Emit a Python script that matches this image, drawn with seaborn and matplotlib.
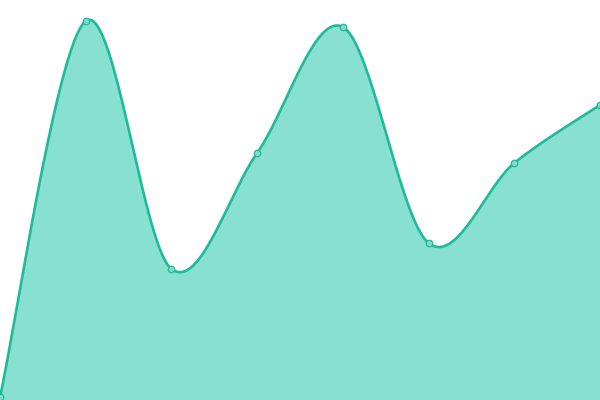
import numpy as np
import pandas as pd
import seaborn as sns
import matplotlib
matplotlib.use("Agg")
import matplotlib.pyplot as plt

# data
steps = [0, 1, 2, 3, 4, 5, 6, 7]
values = [3, 379, 131, 247, 373, 157, 237, 295]

df = pd.DataFrame({"step": steps, "value": values})


def catmull_rom(x, y, n=40):
    # smooth curve through the points (cardinal spline, tension 0)
    x = np.asarray(x, float)
    y = np.asarray(y, float)
    px = np.concatenate([[x[0]], x, [x[-1]]])
    py = np.concatenate([[y[0]], y, [y[-1]]])
    xs, ys = [], []
    for i in range(1, len(px) - 2):
        t = np.linspace(0, 1, n, endpoint=False)
        p0x, p1x, p2x, p3x = px[i - 1:i + 3]
        p0y, p1y, p2y, p3y = py[i - 1:i + 3]
        m1x, m2x = (p2x - p0x) / 2, (p3x - p1x) / 2
        m1y, m2y = (p2y - p0y) / 2, (p3y - p1y) / 2
        h00 = 2 * t**3 - 3 * t**2 + 1
        h10 = t**3 - 2 * t**2 + t
        h01 = -2 * t**3 + 3 * t**2
        h11 = t**3 - t**2
        xs.append(h00 * p1x + h10 * m1x + h01 * p2x + h11 * m2x)
        ys.append(h00 * p1y + h10 * m1y + h01 * p2y + h11 * m2y)
    xs.append([x[-1]])
    ys.append([y[-1]])
    return np.concatenate(xs), np.concatenate(ys)


sns.set_style("white")
fig = plt.figure(figsize=(6, 4), dpi=100)
ax = fig.add_axes([0, 0, 1, 1])

cx, cy = catmull_rom(df["step"], df["value"])
smooth = pd.DataFrame({"x": cx, "y": cy})

ax.fill_between(smooth["x"], smooth["y"], 0, color="#88e0d0", linewidth=0)
sns.lineplot(data=smooth, x="x", y="y", ax=ax, color="#1fbb98", linewidth=1.9,
             sort=False, estimator=None)
sns.scatterplot(data=df, x="step", y="value", ax=ax, s=22, color="#7fdcc8",
                edgecolor="#1fbb98", linewidth=0.9, zorder=5)

ax.set_xlim(0, 7)
ax.set_ylim(0, 400)
ax.axis("off")

fig.savefig("out.png", dpi=100)
